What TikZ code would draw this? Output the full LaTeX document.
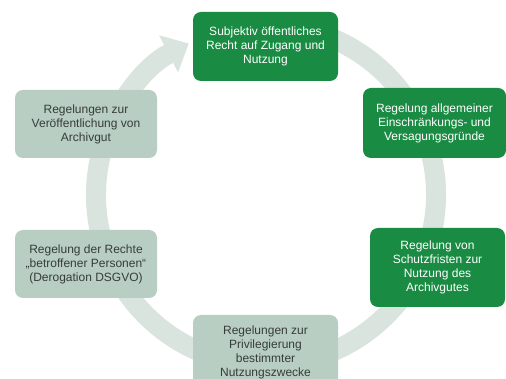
\documentclass[tikz,border=0pt]{standalone}
\usepackage{fontspec}
\setmainfont{Liberation Sans}
\usetikzlibrary{arrows.meta}
\definecolor{darkgr}{RGB}{26,139,67}
\definecolor{lightgr}{RGB}{184,206,194}
\definecolor{ringcol}{RGB}{218,228,222}
\definecolor{txtdark}{RGB}{55,60,58}
\tikzset{
  box/.style={rounded corners=6pt, inner sep=0pt, align=center,
    font=\fontsize{9pt}{10.5pt}\selectfont},
  darkbox/.style={box, fill=darkgr, text=white},
  lightbox/.style={box, fill=lightgr, text=txtdark},
  ring/.style={draw=ringcol, line width=15pt,
    -{Triangle[length=17pt,width=30pt]}},
}
\begin{document}
\begin{tikzpicture}[x=0.75pt,y=0.75pt]
\useasboundingbox (0,0) rectangle (506,378);
\clip (0,0) rectangle (506,378);
\fill[white] (0,0) rectangle (506,378);
% ring with arrow
\coordinate (c) at (266,183);
\draw[ring] (c) ++(80:170) arc[start angle=80, end angle=-243, radius=170];
% boxes
\node[darkbox, minimum width=108.75pt, minimum height=51.75pt] (top) at (265.5,331.5)
  {Subjektiv öffentliches\\Recht auf Zugang und\\Nutzung};
\node[darkbox, minimum width=107.25pt, minimum height=52.5pt] (ru) at (434.5,255)
  {Regelung allgemeiner\\Einschränkungs- und\\Versagungsgründe};
\node[darkbox, minimum width=101.25pt, minimum height=59.25pt] (rl) at (437.5,110.5)
  {Regelung von\\Schutzfristen zur\\Nutzung des\\Archivgutes};
\node[lightbox, minimum width=108.75pt, minimum height=55.5pt] (bot) at (265.5,26)
  {Regelungen zur\\Privilegierung\\bestimmter\\Nutzungszwecke};
\node[lightbox, minimum width=106.5pt, minimum height=51pt] (ll) at (86,114)
  {Regelung der Rechte\\„betroffener Personen“\\(Derogation DSGVO)};
\node[lightbox, minimum width=106.5pt, minimum height=51pt] (lu) at (86,254)
  {Regelungen zur\\Veröffentlichung von\\Archivgut};
\end{tikzpicture}
\end{document}
